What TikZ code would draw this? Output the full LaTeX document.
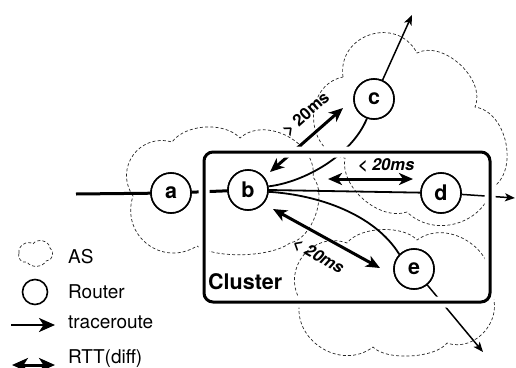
\documentclass[tikz,border=0pt]{standalone}
\usepackage{fontspec}
\setmainfont{TeX Gyre Heros}
\usetikzlibrary{arrows.meta}

\tikzset{
  ascloud/.style={draw=black!85, line width=0.7pt, dash pattern=on 3pt off 2.2pt},
  router/.style={circle, draw, line width=1.6pt, fill=white, minimum size=40pt, inner sep=0pt,
                 font=\fontsize{21.5}{24}\selectfont\bfseries},
  hop/.style={line width=1.8pt},
  hopthick/.style={line width=3pt},
  outarrow/.style={line width=1.5pt, -{Stealth[length=10pt,width=8pt,inset=2.5pt]}},
  rtt/.style={line width=3pt, {Stealth[length=14pt,width=12pt,inset=4pt]}-{Stealth[length=14pt,width=12pt,inset=4pt]}},
  rttlabel/.style={font=\fontsize{16.5}{19}\selectfont\bfseries\itshape, inner sep=0pt},
  legendtext/.style={anchor=west, inner sep=0pt, font=\fontsize{19}{22}\selectfont},
  clusterbox/.style={line width=3pt, rounded corners=9pt,
                     preaction={draw=white, line width=11pt}}
}

\begin{document}
\begin{tikzpicture}[x=1pt, y=-1pt]
\useasboundingbox (0,0) rectangle (516,367);

% ---- autonomous systems (dashed clouds) ----
\draw[ascloud] (133,196)
  to[bend left=70, looseness=1.3]  (172,142)
  to[bend left=50, looseness=0.85] (240,138)
  to[bend left=70, looseness=1.05] (313,177)
  to[bend left=60, looseness=0.84] (290,243)
  to[bend left=35, looseness=0.65] (197,246)
  to[bend left=70, looseness=1.3]  (133,196);

\draw[ascloud] (343,77)
  to[bend left=80, looseness=1.42] (417,53)
  to[bend left=70, looseness=0.96] (475,107)
  to[bend left=70, looseness=1.0]  (492,188)
  to[bend left=60, looseness=1.09] (407,212)
  to[bend left=60, looseness=0.91] (345,158)
  to[bend left=80, looseness=1.3]  (343,77);

\draw[ascloud] (300,300)
  to[bend left=70, looseness=1.27] (347,243)
  to[bend left=50, looseness=0.76] (417,240)
  to[bend left=70, looseness=1.14] (490,290)
  to[bend left=70, looseness=1.17] (447,343)
  to[bend left=50, looseness=0.66] (373,347)
  to[bend left=70, looseness=1.2]  (300,300);

% ---- routers ----
\node[router] (a) at (171,193) {a};
\node[router] (b) at (248,190) {b};
\node[router] (c) at (374,99)  {c};
\node[router] (d) at (441,193) {d};
\node[router] (e) at (414,269) {e};

\coordinate (src)  at (76,194);
\coordinate (cout) at (412,15);
\coordinate (dout) at (515,198);
\coordinate (eout) at (483,352);

% ---- traceroute paths ----
\draw[hopthick] (src) -- (a);
\draw[hopthick] (a) -- (b);
\draw[hop] (b.10) .. controls (305,182) and (352,155) .. (c.250);
\draw[outarrow] (c) -- (cout);
\draw[hop] (b.0) -- (d);
\draw[outarrow] (d) -- (dout);
\draw[hop] (b.-5) .. controls (320,195) and (375,215) .. (e.135);
\draw[outarrow] (e) -- (eout);

% ---- RTT differences ----
\coordinate (r1s) at (270,172);
\coordinate (r1t) at (343,108);
\coordinate (r2s) at (328,179);
\coordinate (r2t) at (413,179);
\coordinate (r3s) at (273,209);
\coordinate (r3t) at (380,268);
\draw[rtt] (r1s) -- (r1t);
\draw[rtt] (r2s) -- (r2t);
\draw[rtt] (r3s) -- (r3t);

% ---- cluster frame ----
\draw[clusterbox] (204,152) rectangle (490,302);
\node[anchor=west, inner sep=0pt, font=\fontsize{21.5}{24}\selectfont\bfseries] (cl) at (208,282) {Cluster};

% routers on top of everything
\node[router] at (a) {a};
\node[router] at (b) {b};
\node[router] at (c) {c};
\node[router] at (d) {d};
\node[router] at (e) {e};

% RTT labels
\node[rttlabel, font=\fontsize{16.5}{19}\selectfont\bfseries, rotate=41.5] (l1) at (306,114) {> 20ms};
\node[rttlabel] (l2) at (386,165) {< 20ms};
\node[rttlabel, rotate=-30] (l3) at (318,256) {< 20ms};

% ---- legend ----
\draw[ascloud] (19,253)
  to[bend left=70, looseness=1.1] (33,244)
  to[bend left=70, looseness=1.1] (50,248)
  to[bend left=80, looseness=1.2] (46,261)
  to[bend left=60, looseness=1.0] (27,262)
  to[bend left=70, looseness=1.1] (19,253);
\node[legendtext] (lgas) at (68,257) {AS};
\node[circle, draw, line width=1.6pt, minimum size=25pt, inner sep=0pt] (lgr) at (35,292) {};
\node[legendtext] (lgrt) at (68,292) {Router};
\coordinate (lt1) at (11,325);
\coordinate (lt2) at (55,325);
\draw[line width=2.6pt, -{Stealth[length=16pt,width=14pt,inset=4.5pt]}] (lt1) -- (lt2);
\node[legendtext] (lgtr) at (68,322) {traceroute};
\coordinate (ld1) at (12,365);
\coordinate (ld2) at (55,365);
\draw[line width=3pt, {Stealth[length=16pt,width=14pt,inset=4.5pt]}-{Stealth[length=16pt,width=14pt,inset=4.5pt]}] (ld1) -- (ld2);
\node[legendtext] (lgrtt) at (68,359) {RTT(diff)};
\end{tikzpicture}
\end{document}
